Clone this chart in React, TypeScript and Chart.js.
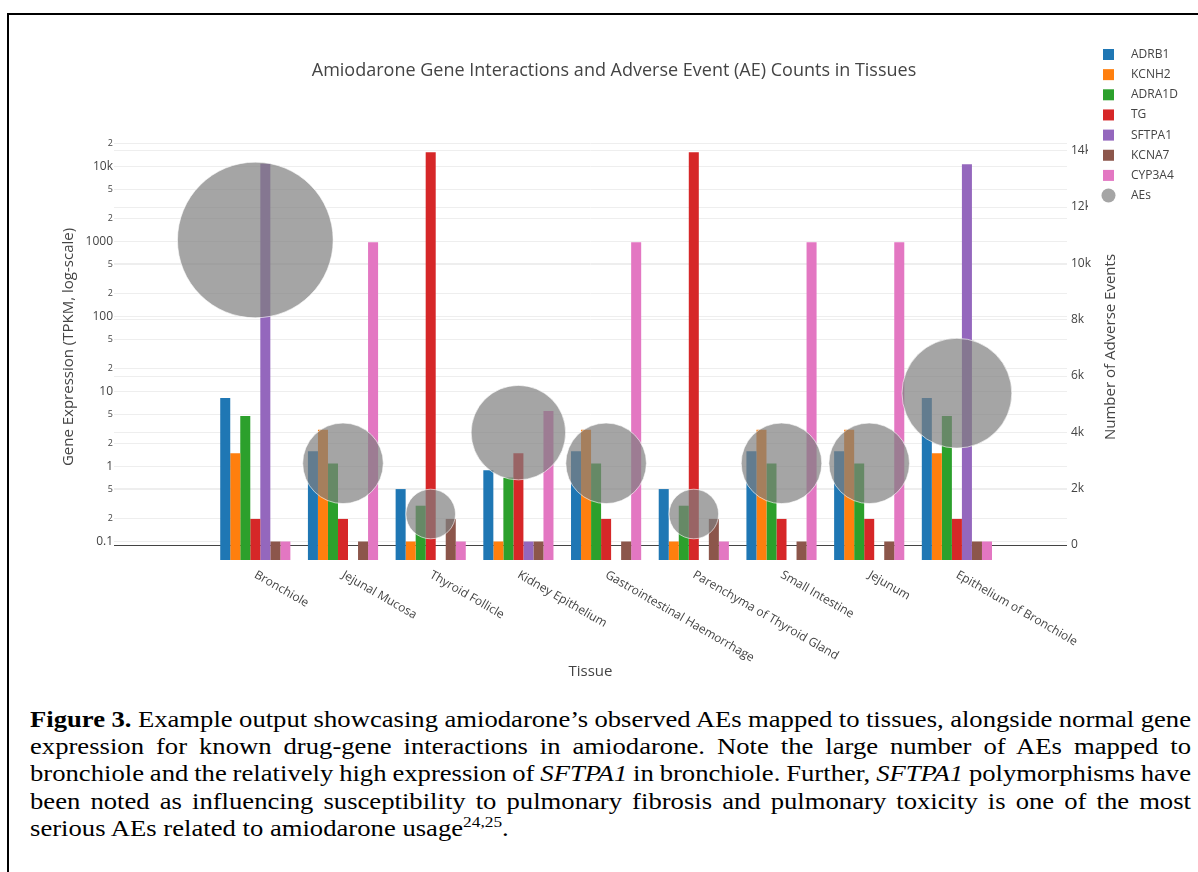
import React, { useEffect, useRef } from "react";
import { Chart, registerables } from "chart.js";

Chart.register(...registerables);

// ---------- data ----------
const tissues = [
  "Bronchiole",
  "Jejunal Mucosa",
  "Thyroid Follicle",
  "Kidney Epithelium",
  "Gastrointestinal Haemorrhage",
  "Parenchyma of Thyroid Gland",
  "Small Intestine",
  "Jejunum",
  "Epithelium of Bronchiole",
];
const geneNames = ["ADRB1", "KCNH2", "ADRA1D", "TG", "SFTPA1", "KCNA7", "CYP3A4"];
const adrb1 = [8.2, 1.6, 0.5, 0.89, 1.6, 0.5, 1.6, 1.6, 8.2];
const kcnh2 = [1.5, 3.1, 0.1, 0.1, 3.1, 0.1, 3.1, 3.1, 1.5];
const adra1d = [4.7, 1.1, 0.3, 0.71, 1.1, 0.3, 1.1, 1.1, 4.7];
const tg = [0.2, 0.2, 15500, 1.5, 0.2, 15500, 0.2, 0.2, 0.2];
const sftpa1 = [10900, null, null, 0.1, null, null, null, null, 10700];
const kcna7 = [0.1, 0.1, 0.2, 0.1, 0.1, 0.2, 0.1, 0.1, 0.1];
const cyp3a4 = [0.1, 980, 0.1, 5.5, 980, 0.1, 980, 980, 0.1];
const aeCounts = [10830, 2900, 1100, 3990, 2900, 1100, 2900, 2900, 5390];

const logTickValues = [0.1, 0.2, 0.5, 1, 2, 5, 10, 20, 50, 100, 200, 500, 1000, 2000, 5000, 10000, 20000];
const aeTickValues = [0, 2000, 4000, 6000, 8000, 10000, 12000, 14000];

// ---------- styling / layout ----------
const geneColors = ["#1f77b4", "#ff7f0e", "#2ca02c", "#d62728", "#9467bd", "#8c564b", "#e377c2"];
const AE_COLOR = "rgba(127,127,127,0.7)";
const FONT = '"Open Sans", "DejaVu Sans", sans-serif';
const TEXT = "#444";
const W = 1198;
const H = 700;
const PLOT_LEFT = 114;
const PLOT_RIGHT = 1067;
const PLOT_TOP = 140;
const PLOT_BOTTOM = 560;
const BUBBLE_K = 0.748;
const TITLE = "Amiodarone Gene Interactions and Adverse Event (AE) Counts in Tissues";

const geneSeries = [adrb1, kcnh2, adra1d, tg, sftpa1, kcna7, cyp3a4];

const isPow10 = (v: number) => {
  const lg = Math.log10(v);
  return Math.abs(lg - Math.round(lg)) < 1e-6;
};

const overlayPlugin = {
  id: "overlay",
  afterDraw(chart: any) {
    const ctx = chart.ctx as CanvasRenderingContext2D;
    const xs = chart.scales.x;
    const area = chart.chartArea;
    ctx.save();
    ctx.fillStyle = TEXT;

    // title
    ctx.font = `18px ${FONT}`;
    ctx.textAlign = "center";
    ctx.textBaseline = "middle";
    ctx.fillText(TITLE, 614, 71);

    // x tick labels (rotated 30deg clockwise)
    ctx.font = `12px ${FONT}`;
    tissues.forEach((t, i) => {
      const px = xs.getPixelForValue(i);
      ctx.save();
      ctx.translate(px, 574);
      ctx.rotate(Math.PI / 6);
      ctx.textAlign = "left";
      ctx.textBaseline = "middle";
      ctx.fillText(t, 0, 0);
      ctx.restore();
    });

    // x axis title
    ctx.font = `15px ${FONT}`;
    ctx.textAlign = "center";
    ctx.textBaseline = "middle";
    ctx.fillText("Tissue", (area.left + area.right) / 2, 672);

    // y axis titles
    ctx.save();
    ctx.translate(69, 347);
    ctx.rotate(-Math.PI / 2);
    ctx.fillText("Gene Expression (TPKM, log-scale)", 0, 0);
    ctx.restore();
    ctx.save();
    ctx.translate(1111, 347);
    ctx.rotate(-Math.PI / 2);
    ctx.fillText("Number of Adverse Events", 0, 0);
    ctx.restore();

    // legend
    ctx.fillStyle = "#fff";
    ctx.fillRect(1088, 38, 110, 172);
    ctx.font = `12px ${FONT}`;
    ctx.textAlign = "left";
    ctx.textBaseline = "middle";
    const labels = [...geneNames, "AEs"];
    labels.forEach((name, i) => {
      const cy = 54.5 + 20.15 * i;
      if (i < geneNames.length) {
        ctx.fillStyle = geneColors[i];
        ctx.fillRect(1103, cy - 5.5, 11, 11);
      } else {
        ctx.fillStyle = AE_COLOR;
        ctx.beginPath();
        ctx.arc(1108.5, cy, 7, 0, Math.PI * 2);
        ctx.fill();
      }
      ctx.fillStyle = TEXT;
      ctx.fillText(name, 1131, cy);
    });
    ctx.restore();
  },
};

function ChartCanvas() {
  const ref = useRef<HTMLCanvasElement>(null);
  useEffect(() => {
    if (!ref.current) return;
    const yTop = 466.5;
    const perDecade = 75;
    const logMax = Math.pow(10, (yTop - PLOT_TOP) / perDecade);
    const logMin = Math.pow(10, (yTop - PLOT_BOTTOM) / perDecade);
    const pxPerCount = (545 - 150.7) / 14000;
    const aeMax = (545 - PLOT_TOP) / pxPerCount;
    const aeMin = -(PLOT_BOTTOM - 545) / pxPerCount;
    const slot = 87.7;
    const firstCenter = 255.3;

    const datasets: any[] = [
      {
        type: "bubble",
        label: "AEs",
        data: aeCounts.map((c, i) => ({ x: i, y: c })),
        xAxisID: "x",
        yAxisID: "y1",
        backgroundColor: AE_COLOR,
        borderColor: "rgba(255,255,255,0.6)",
        borderWidth: 1,
        radius: (c: any) => BUBBLE_K * Math.sqrt(c.raw ? c.raw.y : 0),
        order: -1,
      },
      ...geneSeries.map((arr, gi) => ({
        type: "bar",
        label: geneNames[gi],
        data: arr.map((v, i) => ({ x: i, y: v })),
        xAxisID: "x",
        yAxisID: "y",
        backgroundColor: geneColors[gi],
        borderWidth: 0,
        categoryPercentage: 0.8,
        barPercentage: 1.0,
        order: 0,
      })),
    ];

    const chart = new Chart(ref.current, {
      type: "bar",
      data: { datasets },
      plugins: [overlayPlugin],
      options: {
        animation: false,
        responsive: false,
        devicePixelRatio: 1,
        events: [],
        layout: { padding: { left: 0, right: 0, top: PLOT_TOP, bottom: H - PLOT_BOTTOM } },
        plugins: {
          legend: { display: false },
          tooltip: { enabled: false },
          title: { display: false },
        },
        scales: {
          x: {
            type: "linear",
            display: false,
            offset: false,
            min: (PLOT_LEFT - firstCenter) / slot,
            max: (PLOT_RIGHT - firstCenter) / slot,
            grid: { display: false, offset: false },
            afterBuildTicks: (s: any) => {
              s.ticks = tissues.map((_, i) => ({ value: i }));
            },
          },
          y: {
            type: "logarithmic",
            position: "left",
            min: logMin,
            max: logMax,
            afterBuildTicks: (s: any) => {
              s.ticks = logTickValues.map((v) => ({ value: v }));
            },
            afterFit: (s: any) => {
              s.width = PLOT_LEFT;
            },
            border: { display: false },
            grid: { color: "#eee", lineWidth: 1, drawTicks: false },
            ticks: {
              autoSkip: false,
              padding: 1,
              color: TEXT,
              font: (c: any) => {
                const v = c.tick ? c.tick.value : 1;
                return { family: FONT, size: isPow10(v) ? 12 : 9 };
              },
              callback: (value: any) => {
                const v = Number(value);
                if (isPow10(v)) {
                  if (v >= 10000) return v / 1000 + "k";
                  return v < 1 ? "0.1" : String(Math.round(v));
                }
                const p = Math.pow(10, Math.floor(Math.log10(v)));
                return String(Math.round(v / p));
              },
            },
          },
          y1: {
            type: "linear",
            position: "right",
            min: aeMin,
            max: aeMax,
            afterBuildTicks: (s: any) => {
              s.ticks = aeTickValues.map((v) => ({ value: v }));
            },
            afterFit: (s: any) => {
              s.width = W - PLOT_RIGHT;
            },
            border: { display: false },
            grid: {
              color: (c: any) => (c.tick && c.tick.value === 0 ? "#444" : "#eee"),
              lineWidth: 1,
              drawTicks: false,
            },
            ticks: {
              autoSkip: false,
              padding: 4,
              color: TEXT,
              font: { family: FONT, size: 12 },
              callback: (value: any) => {
                const v = Number(value);
                return v === 0 ? "0" : v / 1000 + "k";
              },
            },
          },
        },
      } as any,
    });
    return () => chart.destroy();
  }, []);
  return (
    <canvas
      ref={ref}
      width={W}
      height={H}
      style={{ position: "absolute", left: 0, top: 0, width: W, height: H }}
    />
  );
}

const SCALE_X = 1.18;
const CAP_LEFT = 30;
const CAP_WIDTH = 1161;
const CAP_TOP = 706;
const CAP_LH = 27.2;

function CapLine({ idx, justify, children }: { idx: number; justify: boolean; children: any }) {
  return (
    <div
      style={{
        position: "absolute",
        left: CAP_LEFT,
        top: CAP_TOP + idx * CAP_LH,
        width: CAP_WIDTH / SCALE_X,
        transform: `scaleX(${SCALE_X})`,
        transformOrigin: "left top",
        fontFamily: '"Liberation Serif", "Times New Roman", serif',
        fontSize: 22.6,
        lineHeight: "27px",
        color: "#000",
        wordSpacing: justify ? "-3px" : "0px",
        textAlign: justify ? "justify" : "left",
        textAlignLast: justify ? "justify" : "left",
      } as any}
    >
      {children}
    </div>
  );
}

export default function App() {
  return (
    <div
      style={{
        position: "fixed",
        left: 0,
        top: 0,
        width: 1198,
        height: 872,
        overflow: "hidden",
        background: "#fff",
      }}
    >
      <div
        style={{
          position: "absolute",
          left: 7,
          top: 13,
          width: 1400,
          height: 1000,
          border: "2px solid #000",
          boxSizing: "border-box",
        }}
      />
      <ChartCanvas />
      <CapLine idx={0} justify>
        <b>Figure 3.</b> Example output showcasing amiodarone’s observed AEs mapped to tissues, alongside normal gene
      </CapLine>
      <CapLine idx={1} justify>
        expression for known drug-gene interactions in amiodarone. Note the large number of AEs mapped to
      </CapLine>
      <CapLine idx={2} justify>
        bronchiole and the relatively high expression of <i>SFTPA1</i> in bronchiole. Further, <i>SFTPA1</i> polymorphisms have
      </CapLine>
      <CapLine idx={3} justify>
        been noted as influencing susceptibility to pulmonary fibrosis and pulmonary toxicity is one of the most
      </CapLine>
      <CapLine idx={4} justify={false}>
        serious AEs related to amiodarone usage
        <span style={{ fontSize: "0.65em", position: "relative", top: "-0.6em" }}>24,25</span>.
      </CapLine>
    </div>
  );
}
